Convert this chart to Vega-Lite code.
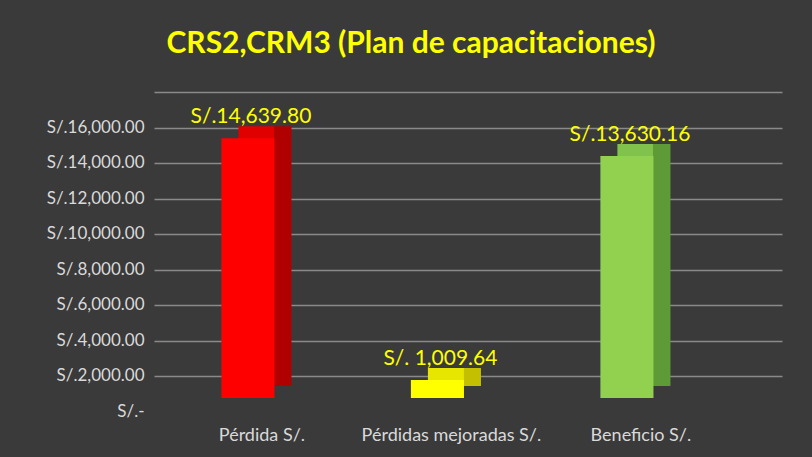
{
  "$schema": "https://vega.github.io/schema/vega-lite/v6.json",
  "autosize": "none",
  "width": 628,
  "height": 284,
  "padding": {"left": 154, "top": 114, "right": 30, "bottom": 59},
  "background": "#3a3a3a",
  "title": {
    "text": "CRS2,CRM3 (Plan de capacitaciones)",
    "color": "#ffff00",
    "font": "Lato",
    "fontSize": 30,
    "fontWeight": "bold",
    "anchor": "middle",
    "frame": "group",
    "dx": -57,
    "offset": 47
  },
  "data": {
    "values": [
      {"cat": "Pérdida S/.", "value": 14639.80, "label": "S/.14,639.80"},
      {"cat": "Pérdidas mejoradas S/.", "value": 1009.64, "label": "S/. 1,009.64"},
      {"cat": "Beneficio S/.", "value": 13630.16, "label": "S/.13,630.16"}
    ]
  },
  "encoding": {
    "x": {
      "field": "cat",
      "type": "nominal",
      "sort": null,
      "scale": {"paddingInner": 0.72, "paddingOuter": 0.517, "align": 0.344},
      "axis": {
        "title": null,
        "labelAngle": 0,
        "labelColor": "#d9d9d9",
        "labelFont": "Lato",
        "labelFontSize": 18,
        "labelOffset": 14,
        "labelPadding": 28,
        "domain": false,
        "ticks": false
      }
    },
    "y": {
      "field": "value",
      "type": "quantitative",
      "scale": {"domain": [0, 16000], "nice": false},
      "axis": {
        "title": null,
        "values": [0, 2000, 4000, 6000, 8000, 10000, 12000, 14000, 16000],
        "labelExpr": "datum.value == 0 ? 'S/.-' : 'S/.' + format(datum.value, ',.2f')",
        "labelColor": "#d9d9d9",
        "labelFont": "Lato",
        "labelFontSize": 17,
        "labelPadding": 10,
        "tickOffset": -22,
        "labelOffset": 35,
        "domain": false,
        "ticks": false,
        "grid": true,
        "gridColor": "#8a8a8a",
        "gridWidth": 1.5
      }
    }
  },
  "layer": [
    {
      "mark": {"type": "bar", "xOffset": 17, "yOffset": -12},
      "encoding": {
        "fill": {
          "condition": [
            {
              "test": "datum.cat == 'Pérdida S/.'",
              "value": {
                "gradient": "linear", "x1": 0, "y1": 0, "x2": 1, "y2": 0,
                "stops": [
                  {"offset": 0, "color": "#e00000"},
                  {"offset": 0.67, "color": "#e00000"},
                  {"offset": 0.68, "color": "#b00000"},
                  {"offset": 1, "color": "#b00000"}
                ]
              }
            },
            {
              "test": "datum.cat == 'Pérdidas mejoradas S/.'",
              "value": {
                "gradient": "linear", "x1": 0, "y1": 0, "x2": 1, "y2": 0,
                "stops": [
                  {"offset": 0, "color": "#e6e600"},
                  {"offset": 0.67, "color": "#e6e600"},
                  {"offset": 0.68, "color": "#c4bf00"},
                  {"offset": 1, "color": "#c4bf00"}
                ]
              }
            }
          ],
          "value": {
            "gradient": "linear", "x1": 0, "y1": 0, "x2": 1, "y2": 0,
            "stops": [
              {"offset": 0, "color": "#80c24c"},
              {"offset": 0.67, "color": "#80c24c"},
              {"offset": 0.68, "color": "#5e9a35"},
              {"offset": 1, "color": "#5e9a35"}
            ]
          }
        }
      }
    },
    {
      "mark": {"type": "bar"},
      "encoding": {
        "color": {
          "field": "cat",
          "type": "nominal",
          "sort": null,
          "scale": {
            "domain": ["Pérdida S/.", "Pérdidas mejoradas S/.", "Beneficio S/."],
            "range": ["#ff0000", "#ffff00", "#92d050"]
          },
          "legend": null
        }
      }
    },
    {
      "mark": {
        "type": "text",
        "font": "Lato",
        "fontSize": 21,
        "color": "#ffff00",
        "baseline": "alphabetic",
        "dy": -15,
        "dx": 3
      },
      "encoding": {"text": {"field": "label"}}
    }
  ],
  "config": {"view": {"stroke": null}}
}
